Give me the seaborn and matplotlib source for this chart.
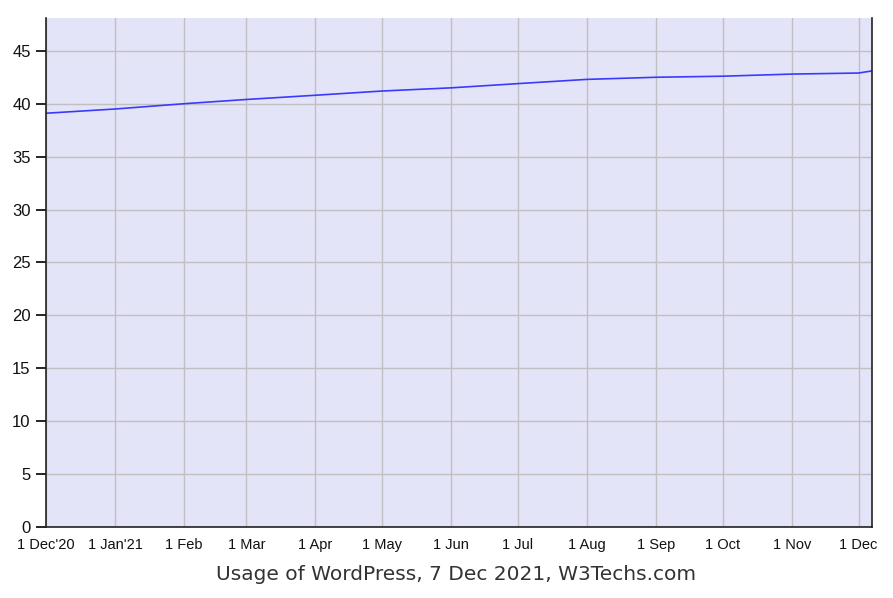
import pandas as pd
import matplotlib.pyplot as plt
import seaborn as sns

dates = ["2020-12-01", "2021-01-01", "2021-02-01", "2021-03-01", "2021-04-01",
         "2021-05-01", "2021-06-01", "2021-07-01", "2021-08-01", "2021-09-01",
         "2021-10-01", "2021-11-01", "2021-12-01", "2021-12-07"]
usage = [39.1, 39.5, 40.0, 40.4, 40.8, 41.2, 41.5, 41.9, 42.3, 42.5,
         42.6, 42.8, 42.9, 43.1]
tick_dates = dates[:13]
tick_labels = ["1 Dec'20", "1 Jan'21", "1 Feb", "1 Mar", "1 Apr", "1 May",
               "1 Jun", "1 Jul", "1 Aug", "1 Sep", "1 Oct", "1 Nov", "1 Dec"]

df = pd.DataFrame({"date": pd.to_datetime(dates), "usage": usage})

sns.set_style("white")
plt.rcParams["font.family"] = ["Liberation Sans", "DejaVu Sans"]

fig = plt.figure(figsize=(8.93, 5.98), dpi=100)
ax = fig.add_axes([0.0515, 0.1187, 0.925, 0.8512])
ax.set_facecolor("#e4e4f8")

sns.lineplot(x="date", y="usage", data=df, color="#3a3aff", linewidth=1.2, ax=ax)

ax.set_xlim(pd.Timestamp("2020-12-01"), pd.Timestamp("2021-12-07"))
ax.set_ylim(0, 48.1)
ax.set_yticks(range(0, 50, 5))
ax.set_xticks(pd.to_datetime(tick_dates))
ax.set_xticklabels(tick_labels)
ax.grid(True, color="#c0c0c0", linewidth=1)
ax.set_axisbelow(True)

ax.tick_params(axis="y", left=True, length=7, width=1.2, color="black",
               labelsize=12, labelcolor="#111111", pad=4)
ax.tick_params(axis="x", bottom=False, length=0, labelsize=10.5,
               labelcolor="#111111", pad=8)

for side in ["left", "bottom", "right"]:
    ax.spines[side].set_color("#222222")
    ax.spines[side].set_linewidth(1.2)
ax.spines["top"].set_visible(False)

ax.set_xlabel("")
ax.set_ylabel("")
fig.text(0.511, 0.04, "Usage of WordPress, 7 Dec 2021, W3Techs.com",
         ha="center", va="center", fontsize=14.5, color="#333333", family="DejaVu Sans")

plt.savefig("out.png", dpi=100)
plt.close()
